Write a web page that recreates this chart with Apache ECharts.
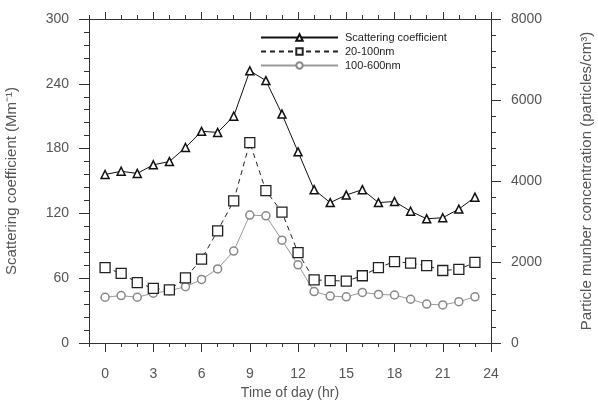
<!DOCTYPE html>
<html>
<head>
<meta charset="utf-8">
<script src="https://cdn.jsdelivr.net/npm/echarts@6/dist/echarts.min.js"></script>
<style>
  html, body { margin: 0; padding: 0; background: #fff; }
  #chart { width: 598px; height: 402px; }
</style>
</head>
<body>
<div id="chart"></div>
<script>
// hours of the day
const hours = [0, 1, 2, 3, 4, 5, 6, 7, 8, 9, 10, 11, 12, 13, 14, 15, 16, 17, 18, 19, 20, 21, 22, 23]
// scattering coefficient (Mm-1), left axis
const scattering = [156, 159, 157, 165, 168, 181, 196, 195, 210, 252, 243, 212,
  177, 142, 130, 137, 142, 130, 131, 122, 115, 116, 124, 135]
// particle number concentration (particles/cm3), right axis
const pn20to100 = [1860, 1720, 1490, 1350, 1310, 1610, 2070, 2770, 3510, 4950, 3760, 3230,
  2230, 1560, 1540, 1530, 1660, 1860, 2010, 1970, 1910, 1790, 1820, 1990]
const pn100to600 = [1130, 1170, 1130, 1230, 1290, 1390, 1570, 1830, 2270, 3160, 3140, 2540,
  1930, 1270, 1160, 1140, 1250, 1200, 1185, 1080, 960, 940, 1020, 1140]
const majorHours = [0, 3, 6, 9, 12, 15, 18, 21, 24]

const pairs = (vals) => hours.map((h, i) => [h, vals[i]])

const AXIS = '#333'
const TEXT = '#555'
const FONT = 'Liberation Sans, Arial, sans-serif'

const chart = echarts.init(document.getElementById('chart'), null, { renderer: 'canvas' })

const xBase = {
  type: 'value',
  min: -1,
  max: 24,
  splitLine: { show: false },
}

chart.setOption({
  animation: false,
  textStyle: { fontFamily: FONT },
  grid: { left: 89, right: 107, top: 19, bottom: 59, containLabel: false, outerBoundsMode: 'none' },
  legend: {
    orient: 'vertical',
    left: 255,
    top: 27,
    itemGap: 3,
    itemWidth: 77,
    itemHeight: 8,
    textStyle: { fontSize: 11, color: '#222', fontFamily: FONT, padding: [0, 0, 0, 2] },
    data: ['Scattering coefficient', '20-100nm', '100-600nm'],
  },
  xAxis: [
    // bottom: line, labels, major ticks
    {
      ...xBase,
      position: 'bottom',
      name: 'Time of day (hr)',
      nameLocation: 'middle',
      nameGap: 42,
      nameTextStyle: { fontSize: 14, color: TEXT },
      axisLine: { onZero: false, lineStyle: { color: AXIS, width: 1 } },
      axisTick: { customValues: majorHours, length: 9, lineStyle: { color: AXIS } },
      axisLabel: { customValues: majorHours, fontSize: 14, color: TEXT, margin: 24 },
    },
    // bottom minor ticks
    {
      ...xBase,
      position: 'bottom',
      interval: 1,
      axisLine: { show: false, onZero: false },
      axisTick: { length: 4, lineStyle: { color: AXIS } },
      axisLabel: { show: false },
    },
    // top frame with ticks
    {
      ...xBase,
      position: 'top',
      axisLine: { onZero: false, lineStyle: { color: AXIS, width: 1 } },
      axisTick: { customValues: majorHours, length: 7, lineStyle: { color: AXIS } },
      axisLabel: { show: false },
    },
    {
      ...xBase,
      position: 'top',
      interval: 1,
      axisLine: { show: false, onZero: false },
      axisTick: { length: 4, lineStyle: { color: AXIS } },
      axisLabel: { show: false },
    },
  ],
  yAxis: [
    {
      type: 'value',
      min: 0,
      max: 300,
      interval: 60,
      position: 'left',
      name: 'Scattering coefficient (Mm\u207B\u00B9)',
      nameLocation: 'middle',
      nameGap: 70,
      nameTextStyle: { fontSize: 15, color: TEXT },
      axisLine: { show: true, onZero: false, lineStyle: { color: AXIS, width: 1 } },
      axisTick: { show: true, length: 10, lineStyle: { color: AXIS } },
      minorTick: { show: true, splitNumber: 5, length: 5, lineStyle: { color: AXIS } },
      axisLabel: { fontSize: 14, color: TEXT, margin: 20 },
      splitLine: { show: false },
    },
    {
      type: 'value',
      min: 0,
      max: 8000,
      interval: 2000,
      position: 'right',
      name: 'Particle munber concentration (particles/cm\u00B3)',
      nameLocation: 'middle',
      nameGap: 88,
      nameTextStyle: { fontSize: 15, color: TEXT },
      axisLine: { show: true, onZero: false, lineStyle: { color: AXIS, width: 1 } },
      axisTick: { show: true, length: 10, lineStyle: { color: AXIS } },
      minorTick: { show: true, splitNumber: 5, length: 5, lineStyle: { color: AXIS } },
      axisLabel: { fontSize: 14, color: TEXT, margin: 20, formatter: (v) => String(v) },
      splitLine: { show: false },
    },
  ],
  series: [
    {
      name: 'Scattering coefficient',
      type: 'line',
      xAxisIndex: 0,
      yAxisIndex: 0,
      data: pairs(scattering),
      symbol: 'triangle',
      symbolSize: 8,
      lineStyle: { color: '#111', width: 1 },
      itemStyle: { color: '#fff', borderColor: '#111', borderWidth: 1.5 },
      z: 3,
    },
    {
      name: '20-100nm',
      type: 'line',
      xAxisIndex: 0,
      yAxisIndex: 1,
      data: pairs(pn20to100),
      symbol: 'rect',
      symbolSize: 10,
      lineStyle: { color: '#222', width: 1, type: [5, 4] },
      itemStyle: { color: '#fff', borderColor: '#222', borderWidth: 1.3 },
      z: 2,
    },
    {
      name: '100-600nm',
      type: 'line',
      xAxisIndex: 0,
      yAxisIndex: 1,
      data: pairs(pn100to600),
      symbol: 'circle',
      symbolSize: 8,
      lineStyle: { color: '#999', width: 1 },
      itemStyle: { color: '#fff', borderColor: '#888', borderWidth: 1.5 },
      z: 1,
    },
  ],
})
</script>
</body>
</html>
